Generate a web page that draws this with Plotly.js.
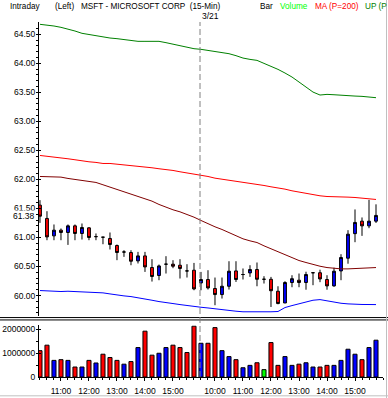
<!DOCTYPE html>
<html><head><meta charset="utf-8">
<script src="https://cdn.plot.ly/plotly-3.0.1.min.js"></script>
<style>html,body{margin:0;padding:0;background:#fff;overflow:hidden}#chart{width:388px;height:398px}</style>
</head><body><div id="chart"></div>
<script>
// ---- data ----
const barTimes = [
  "10:15","10:30","10:45","11:00","11:15","11:30","11:45","12:00","12:15","12:30","12:45","13:00",
  "13:15","13:30","13:45","14:00","14:15","14:30","14:45","15:00","15:15","15:30","15:45",
  "09:30","09:45","10:00","10:15","10:30","10:45","11:00","11:15","11:30","11:45","12:00","12:15",
  "12:30","12:45","13:00","13:15","13:30","13:45","14:00","14:15","14:30","14:45","15:00","15:15",
  "15:30","15:45"];
const dayLabels = ["3/20","3/21"];
const dayStartIndex = 23;

const openP = [61.557,61.328,61.028,61.126,61.086,61.200,61.069,61.166,61.015,61.005,60.983,60.862,60.750,60.741,60.597,60.683,60.483,60.345,60.540,60.540,60.522,60.424,60.436,60.217,60.276,60.121,60.017,60.160,60.424,60.362,60.390,60.448,60.280,60.280,60.074,59.872,60.224,60.264,60.224,60.393,60.393,60.276,60.166,60.424,60.643,61.066,61.281,61.200,61.281];
const highP = [61.643,61.453,61.224,61.155,61.224,61.224,61.241,61.178,61.069,61.005,61.086,60.879,60.781,60.781,60.752,60.752,60.626,60.534,60.678,60.609,60.626,60.540,60.562,60.407,60.436,60.310,60.310,60.591,60.591,60.466,60.522,60.569,60.333,60.321,60.160,60.247,60.350,60.379,60.410,60.393,60.445,60.350,60.479,60.712,61.126,61.483,61.345,61.648,61.571];
const lowP = [61.252,60.953,60.953,60.953,60.872,60.953,60.965,60.953,60.953,60.884,60.793,60.609,60.666,60.522,60.552,60.407,60.241,60.264,60.379,60.471,60.293,60.310,60.091,60.091,60.103,59.833,59.948,60.103,60.234,60.276,60.321,60.160,60.207,59.803,59.850,59.872,60.143,60.143,60.100,60.178,60.230,60.100,60.152,60.264,60.548,60.919,61.028,61.160,61.250];
const closeP = [61.367,61.010,61.126,61.086,61.200,61.069,61.172,61.000,61.015,61.005,60.879,60.741,60.750,60.591,60.683,60.493,60.328,60.510,60.540,60.505,60.466,60.424,60.114,60.276,60.131,60.017,60.160,60.419,60.276,60.362,60.448,60.280,60.280,60.083,59.862,60.224,60.290,60.224,60.362,60.393,60.286,60.166,60.419,60.655,61.057,61.259,61.200,61.281,61.380];

const volume = [1110000,1340000,700000,730000,700000,420000,420000,700000,590000,960000,
  820000,700000,540000,650000,1240000,1930000,920000,1000000,1240000,1340000,
  1240000,1030000,2140000,1420000,1420000,2080000,1110000,860000,730000,390000,
  490000,600000,310000,1450000,490000,860000,490000,540000,600000,420000,
  420000,490000,490000,700000,1170000,960000,730000,1240000,1550000];

const upperBand = [64.672,64.660,64.643,64.620,64.591,64.557,64.517,64.494,64.471,64.448,
  64.436,64.425,64.413,64.390,64.379,64.379,64.379,64.379,64.356,64.327,
  64.298,64.270,64.252,64.241,64.224,64.201,64.183,64.166,64.132,64.091,
  64.068,64.051,63.999,63.953,63.896,63.833,63.764,63.678,63.591,63.505,
  63.454,63.465,63.459,63.448,63.442,63.436,63.431,63.425,63.408];
const ma200 = [62.413,62.402,62.390,62.373,62.356,62.339,62.316,62.304,62.293,62.275,
  62.275,62.264,62.252,62.235,62.218,62.212,62.201,62.184,62.172,62.155,
  62.132,62.114,62.091,62.074,62.051,62.022,62.005,61.982,61.965,61.948,
  61.931,61.913,61.896,61.873,61.856,61.833,61.804,61.781,61.764,61.741,
  61.718,61.706,61.706,61.701,61.695,61.689,61.678,61.666,61.655];
const midLine = [62.051,62.051,62.046,62.040,62.017,62.000,61.977,61.965,61.948,61.908,
  61.867,61.833,61.793,61.747,61.706,61.666,61.626,61.569,61.522,61.477,
  61.442,61.402,61.350,61.293,61.235,61.184,61.138,61.086,61.034,60.977,
  60.942,60.913,60.856,60.804,60.758,60.707,60.655,60.603,60.569,60.534,
  60.505,60.482,60.465,60.459,60.459,60.465,60.477,60.482,60.482];
const lowerBand = [60.086,60.080,60.063,60.069,60.074,60.069,60.057,60.057,60.051,60.046,
  60.028,60.005,59.994,59.982,59.965,59.942,59.919,59.896,59.873,59.862,
  59.844,59.833,59.816,59.798,59.786,59.770,59.758,59.745,59.730,59.720,
  59.718,59.718,59.718,59.720,59.725,59.793,59.827,59.862,59.890,59.919,
  59.930,59.907,59.879,59.867,59.856,59.848,59.846,59.845,59.844];

const priceTicks = [60.0,60.5,61.0,61.5,62.0,62.5,63.0,63.5,64.0,64.5];
const volumeTicks = [0,1000000,2000000];

// ---- derived ----
const idx = barTimes.map((t,i)=>i);
const tickIdx = idx.filter(i => barTimes[i].endsWith(":00"));
const tickTxt = tickIdx.map(i => barTimes[i].replace(/^0/,""));
const volColors = idx.map(i => {
  const c = closeP[i], o = openP[i];
  if (c > o) return '#0000ff';
  if (c < o) return '#ff0000';
  const pc = i > 0 ? closeP[i-1] : c;
  if (c > pc) return '#0000ff';
  if (c < pc) return '#ff0000';
  return '#00ff00';
});
const lastClose = closeP[closeP.length-1];
const dayPos = dayStartIndex - 0.14;

const FONT = '"Liberation Sans", Arial, sans-serif';
const line = (y, color) => ({type:'scatter', mode:'lines', x:idx, y:y, xaxis:'x', yaxis:'y',
  line:{color:color, width:1}, hoverinfo:'skip'});

const traces = [
  line(upperBand,'#008000'),
  line(ma200,'#ff0000'),
  line(midLine,'#800000'),
  line(lowerBand,'#0000ff'),
  {type:'candlestick', x:idx, open:openP, high:highP, low:lowP, close:closeP, xaxis:'x', yaxis:'y',
   increasing:{line:{color:'#000', width:1}, fillcolor:'#0000ff'},
   decreasing:{line:{color:'#000', width:1}, fillcolor:'#ff0000'},
   whiskerwidth:0, hoverinfo:'skip'},
  {type:'bar', x:idx, y:volume, xaxis:'x', yaxis:'y2',
   marker:{color:volColors, line:{color:'#000', width:1}}, hoverinfo:'skip'}
];

const px = p => (p - 39) / 344;
const py = p => (376.7 - p) / 354.7;
const topText = (txt, x, color) => ({text:txt, xref:'paper', yref:'paper', x:px(x), y:py(6.3),
  xanchor:'left', yanchor:'middle', showarrow:false, font:{family:FONT, size:8.2, color:color}});

const layout = {
  width:388, height:398,
  margin:{l:39, r:5, t:22, b:21},
  paper_bgcolor:'#fff', plot_bgcolor:'#fff',
  showlegend:false,
  font:{family:FONT, size:8.5, color:'#000'},
  boxgap:0.42,
  bargap:0.42,
  xaxis:{anchor:'y2', range:[-0.14, 49], showgrid:false, zeroline:false,
    showline:true, linecolor:'#000', linewidth:1,
    tickmode:'array', tickvals:tickIdx, ticktext:tickTxt,
    ticks:'outside', ticklen:3, tickcolor:'#000', tickwidth:1, ticklabelstandoff:3,
    minor:{tickmode:'linear', tick0:0, dtick:1, ticks:'outside', ticklen:2, tickcolor:'#000', showgrid:false},
    rangeslider:{visible:false}, fixedrange:true,
    tickfont:{family:FONT, size:8.5, color:'#000'}},
  yaxis:{domain:[0.1711, 1], range:[59.643, 64.712], showgrid:false, zeroline:false,
    showline:true, linecolor:'#000', linewidth:1,
    tickmode:'array', tickvals:priceTicks, ticktext:priceTicks.map(v=>v.toFixed(2)),
    ticks:'inside', ticklen:2, tickcolor:'#000', ticklabelstandoff:1,
    minor:{tickmode:'linear', tick0:60, dtick:0.1, ticks:'outside', ticklen:2, tickcolor:'#000', showgrid:false},
    tickfont:{family:FONT, size:8.5, color:'#000'}, fixedrange:true},
  yaxis2:{domain:[0, 0.1458], range:[0, 2180000], showgrid:false, zeroline:false,
    showline:true, linecolor:'#000', linewidth:1,
    tickmode:'array', tickvals:volumeTicks, ticktext:volumeTicks.map(v=>String(v)),
    ticks:'inside', ticklen:2, tickcolor:'#000', ticklabelstandoff:1,
    minor:{tickmode:'linear', tick0:0, dtick:500000, ticks:'outside', ticklen:2, tickcolor:'#000', showgrid:false},
    tickfont:{family:FONT, size:8.5, color:'#000'}, fixedrange:true},
  shapes:[
    {type:'line', xref:'paper', yref:'paper', x0:px(0), x1:px(388), y0:py(317.3), y1:py(317.3), line:{color:'#000', width:1}},
    {type:'line', xref:'paper', yref:'paper', x0:px(0), x1:px(388), y0:py(319.7), y1:py(319.7), line:{color:'#000', width:1}},
    {type:'line', xref:'x', yref:'paper', x0:dayPos, x1:dayPos, y0:0, y1:1, line:{color:'#808080', width:1, dash:'6px,3px'}},
    {type:'line', xref:'paper', yref:'paper', x0:px(386.5), x1:px(386.5), y0:py(0), y1:py(398), line:{color:'#c0c0c0', width:1}},
    {type:'line', xref:'paper', yref:'paper', x0:px(0), x1:px(388), y0:py(395.5), y1:py(395.5), line:{color:'#c0c0c0', width:1}}
  ],
  annotations:[
    topText('Intraday', 7.5, '#000'),
    topText('(Left)', 52.5, '#000'),
    topText('MSFT - MICROSOFT CORP  (15-Min)', 78.5, '#000'),
    topText('Bar', 257.5, '#000'),
    topText('Volume', 277.5, '#00ff00'),
    topText('MA (P=200)', 312.5, '#ff0000'),
    topText('UP (P', 363.3, '#008000'),
    {text:dayLabels[1], xref:'x', yref:'paper', x:dayPos, y:py(16.2), xanchor:'left', yanchor:'middle',
     xshift:0, showarrow:false, font:{family:FONT, size:8.5, color:'#000'}},
    {text:lastClose.toFixed(2), xref:'paper', yref:'y', x:0, y:lastClose, xanchor:'right', yanchor:'middle',
     xshift:-3, yshift:-1, showarrow:false, bgcolor:'#fff', borderpad:0, font:{family:FONT, size:8.5, color:'#000'}}
  ]
};

Plotly.newPlot('chart', traces, layout, {displayModeBar:false, staticPlot:true});
</script>
</body></html>
